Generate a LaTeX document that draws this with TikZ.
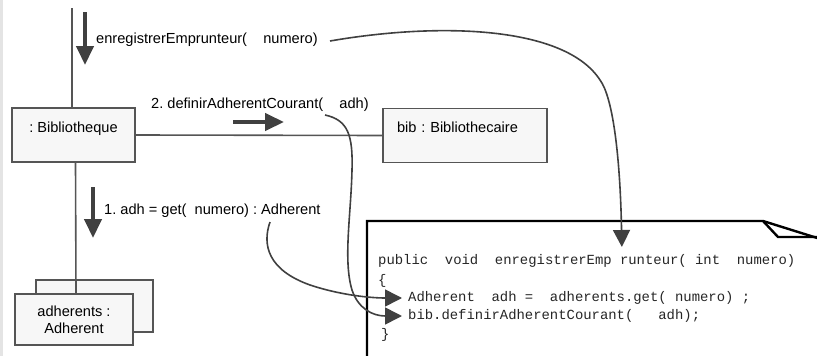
\documentclass[tikz,border=0pt]{standalone}
\usepackage{fontspec}
\setmainfont{Liberation Sans}
\setmonofont{Liberation Mono}
\usetikzlibrary{arrows.meta,positioning,calc}
\definecolor{CollabInk}{HTML}{404040}
\definecolor{CollabLine}{HTML}{555555}
\definecolor{CollabFill}{HTML}{F7F7F7}
\definecolor{CollabEdge}{HTML}{E4E4E4}
\frenchspacing

\begin{document}
\begin{tikzpicture}[
    x=1pt, y=-1pt,
    font=\fontsize{14.6}{17}\selectfont,
    obj/.style={
      draw=CollabLine,
      fill=CollabFill,
      line width=1.6pt,
      minimum width=#1,
      minimum height=54pt,
      inner sep=0pt
    },
    topline/.style={
      text height=10.5pt,
      text depth=16pt
    },
    msg/.style={
      anchor=west,
      inner sep=0pt
    },
    link/.style={
      draw=CollabLine,
      line width=1.6pt
    },
    flow/.style={
      -{Triangle[length=19pt,width=17pt]},
      line width=4.5pt,
      color=CollabInk
    },
    trace/.style={
      -{Triangle[length=17pt,width=17pt]},
      line width=1.6pt,
      color=CollabInk,
      shorten >=6pt
    },
    code/.style={
      anchor=west,
      inner sep=0pt,
      text=black!85,
      font=\ttfamily\fontsize{13.9}{16}\selectfont
    }
  ]

  \useasboundingbox (0,0) rectangle (817,356);
  \clip (0,0) rectangle (817,356);
  \fill[CollabEdge] (0,0) rectangle (3,356);

  % objects
  \node[obj=123pt, topline] (bibl) at (73.5,135) {: Bibliotheque};
  \node[obj=164pt, topline, text width=136pt, align=left] (bib) at (465,135.5)
    {bib : Bibliothecaire};
  \node[obj=117pt, minimum height=52pt] (adhback) at (94.5,306) {};

  % links
  \coordinate (top) at (72,8);
  \draw[link] (top) -- (top |- bibl.north);
  \draw[link] (bibl.east) -- (bib.west);
  \draw[link] ([xshift=2pt]bibl.south) -- (76,294);

  \node[obj=118pt, minimum height=51pt, align=center] (adh) at (74,319.5)
    {adherents :\\Adherent};

  % messages
  \node[msg] (msgenr) at (96,40) {enregistrerEmprunteur(~~~~numero)};
  \node[msg] (msgdef) at (151,105) {2. definirAdherentCourant(~~~~adh)};
  \node[msg] (msgget) at (104,211) {1. adh = get(~~numero) : Adherent};

  \coordinate (enrtail) at (85,12);
  \coordinate (enrhead) at (85,65);
  \draw[flow] (enrtail) -- (enrhead);
  \coordinate (deftail) at (233,122);
  \coordinate (defhead) at (284,122);
  \draw[flow] (deftail) -- (defhead);
  \coordinate (gettail) at (93,187);
  \coordinate (gethead) at (93,238);
  \draw[flow] (gettail) -- (gethead);

  % note
  \draw[line width=2.4pt, fill=white]
    (367,370) -- (367,221) -- (763,221) -- (830,242);
  \draw[line width=2.4pt] (763,221) -- (778,237) -- (830,237);

  \node[code] (sig) at (378,261)
    {public~~void~~enregistrerEmp~runteur(~int~~numero)};
  \node[code] (open) at (378,281) {\{};
  \node[code] (get) at (408,298) {Adherent~~adh~=~~adherents.get(~numero)~;};
  \node[code] (def) at (408,316) {bib.definirAdherentCourant(~~~adh);};
  \node[code] (close) at (381,335) {\}};

  % traces into the code
  \coordinate (enrstart) at (330,41);
  \coordinate (sigin) at (622,253);
  \draw[trace] (enrstart) .. controls (440,22) and (565,26) .. (600,80)
    .. controls (612,96) and (620,150) .. (sigin);

  \coordinate (defstart) at (325,115);
  \draw[trace] (defstart) .. controls (348,120) and (353,135) .. (352,170)
    .. controls (351,215) and (343,260) .. (352,290)
    .. controls (358,308) and (372,316) .. (def.west);

  \coordinate (getstart) at (270,222);
  \draw[trace] (getstart) .. controls (262,245) and (268,270) .. (310,285)
    .. controls (340,295) and (370,298) .. (get.west);

\end{tikzpicture}
\end{document}
